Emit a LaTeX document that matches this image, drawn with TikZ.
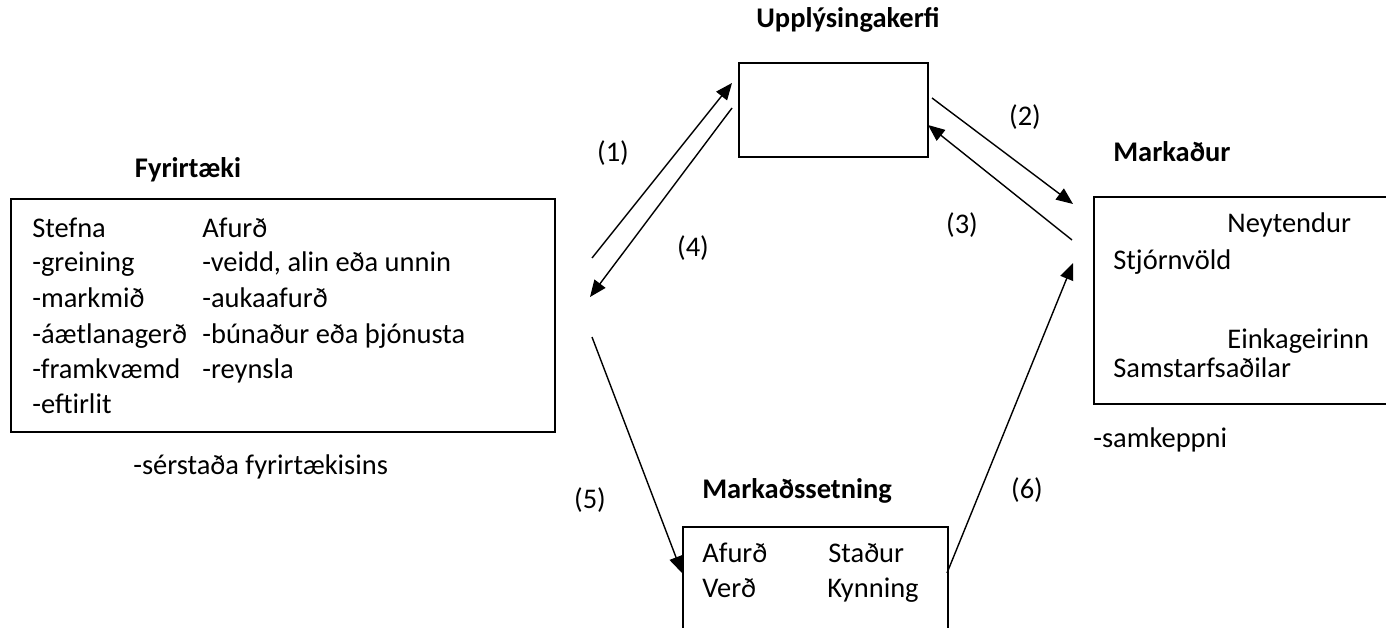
\documentclass[tikz,border=0pt]{standalone}
\usepackage{fontspec}
\setmainfont{Carlito}
\usetikzlibrary{arrows.meta}

\begin{document}
\begin{tikzpicture}[x=0.02cm, y=-0.02cm]
% Styles
\tikzset{
    box/.style={draw, line width=1.1pt, anchor=north west, inner sep=0pt},
    txt/.style={anchor=base west, inner sep=0pt, font=\fontsize{16.2}{19}\selectfont},
    heading/.style={anchor=base west, inner sep=0pt, font=\fontsize{16.2}{19}\selectfont\bfseries},
    num/.style={inner sep=0pt, font=\fontsize{16.2}{19}\selectfont},
    flow/.style={line width=0.8pt, -{Triangle[length=9.5pt, width=7.8pt]}}
}

\clip (0,0) rectangle (1386,628);

% Boxes
\node[box, minimum width=10.88cm, minimum height=4.66cm] (firm) at (10,198) {};
\node[box, minimum width=3.78cm, minimum height=1.88cm] (info) at (738,62) {};
\node[box, minimum width=6.2cm, minimum height=4.14cm] (market) at (1093,196) {};
\node[box, minimum width=5.3cm, minimum height=2.4cm] (promo) at (682,526) {};

% Headings
\node[heading, anchor=base] (infoT) at (848,28) {Upplýsingakerfi};
\node[heading, anchor=base] (firmT) at (188,178) {Fyrirtæki};
\node[heading] (marketT) at (1113,162) {Markaður};
\node[heading] (promoT) at (702,498) {Markaðssetning};

% Fyrirtaeki
\node[txt] (stefna) at (32,237) {Stefna};
\node[txt] (greining) at (32,272) {-greining};
\node[txt] (markmid) at (32,307) {-markmið};
\node[txt] (aaetlun) at (32,343) {-áætlanagerð};
\node[txt] (framkv) at (32,378) {-framkvæmd};
\node[txt] (eftirlit) at (32,413) {-eftirlit};
\node[txt] (afurd) at (202,237) {Afurð};
\node[txt] (veidd) at (202,272) {-veidd, alin eða unnin};
\node[txt] (auka) at (202,307) {-aukaafurð};
\node[txt] (bunadur) at (202,343) {-búnaður eða þjónusta};
\node[txt] (reynsla) at (202,378) {-reynsla};
\node[txt] (serstada) at (133,474) {-sérstaða fyrirtækisins};

% Markadur
\node[txt] (neyt) at (1227,233) {Neytendur};
\node[txt] (stjorn) at (1113,270) {Stjórnvöld};
\node[txt] (einka) at (1227,348) {Einkageirinn};
\node[txt] (samst) at (1113,377) {Samstarfsaðilar};
\node[txt] (samkeppni) at (1093,447) {-samkeppni};

% Markadssetning
\node[txt] (pAfurd) at (702,562) {Afurð};
\node[txt] (pStadur) at (828,562) {Staður};
\node[txt] (pVerd) at (702,597) {Verð};
\node[txt] (pKynning) at (827,597) {Kynning};

% Arrow ends
\coordinate (a1s) at (592,258);
\coordinate (a1e) at (732,83);
\coordinate (a4s) at (732,108);
\coordinate (a4e) at (590,297);
\coordinate (a2s) at (932,98);
\coordinate (a2e) at (1073,204);
\coordinate (a3s) at (1072,240);
\coordinate (a3e) at (928,125);
\coordinate (a5s) at (592,337);
\coordinate (a5e) at (682,573);
\coordinate (a6s) at (947,573);
\coordinate (a6e) at (1073,263);

% Connections
\draw[flow] (a1s) -- (a1e);
\draw[flow] (a4s) -- (a4e);
\draw[flow] (a2s) -- (a2e);
\draw[flow] (a3s) -- (a3e);
\draw[flow] (a5s) -- (a5e);
\draw[flow] (a6s) -- (a6e);

% Numbers
\node[num] (n1) at (613,153) {(1)};
\node[num] (n2) at (1025,117) {(2)};
\node[num] (n3) at (962,225) {(3)};
\node[num] (n4) at (693,248) {(4)};
\node[num] (n5) at (590,500) {(5)};
\node[num] (n6) at (1027,490) {(6)};
\end{tikzpicture}
\end{document}
